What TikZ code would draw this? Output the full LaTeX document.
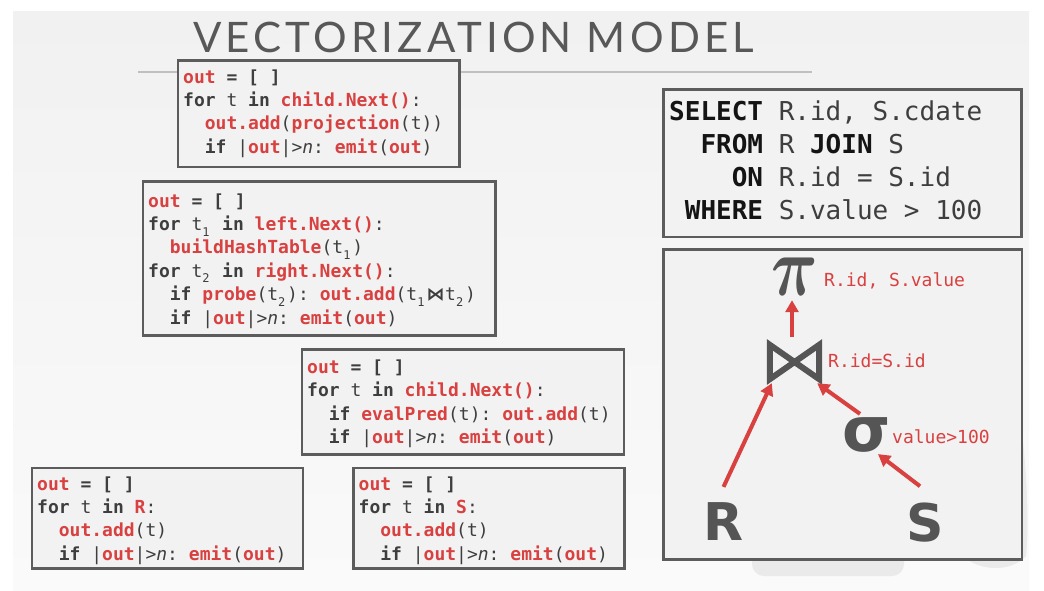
\documentclass[tikz,border=0pt]{standalone}
\usepackage{fontspec}
\usepackage{amsmath}
\usetikzlibrary{arrows.meta}

\newfontfamily\codemono{DejaVu Sans Mono}
\newfontfamily\djsans{DejaVu Sans}
\newfontfamily\titlefont{Lato}[LetterSpace=10]

\definecolor{slidetop}{RGB}{241,241,241}
\definecolor{slidebottom}{RGB}{250,250,250}
\definecolor{markgray}{RGB}{234,234,234}
\definecolor{boxfill}{RGB}{242,242,242}
\definecolor{boxline}{RGB}{92,92,92}
\definecolor{codered}{RGB}{217,64,64}
\definecolor{codetext}{RGB}{62,62,62}
\definecolor{sqlkey}{RGB}{20,20,20}
\definecolor{symgray}{RGB}{85,85,85}
\definecolor{titlegray}{RGB}{88,88,88}
\definecolor{rulegray}{RGB}{192,192,192}

% code markup
\newcommand\rd[1]{\textcolor{codered}{\bfseries #1}}
\newcommand\kw[1]{{\bfseries #1}}
\newcommand\sqlkw[1]{\textcolor{sqlkey}{\bfseries #1}}
\newcommand\ind{\phantom{xx}}
\newcommand\sub[1]{\makebox[0.5em][l]{\raisebox{-0.32em}{\fontsize{12}{12}\selectfont #1}}}
\newcommand\bowtiechar{\makebox[1.05em][c]{\djsans\bfseries ⋈}}
\newcommand\nvar{\textit{n}}

\begin{document}
\frenchspacing
\begin{tikzpicture}[x=1pt,y=-1pt,
  codebox/.style={draw=boxline, line width=2.5pt, fill=boxfill, inner sep=0pt, anchor=north west},
  code/.style={font=\codemono\fontsize{18}{23.4}\selectfont, text=codetext, inner sep=0pt, anchor=base west},
  sqltext/.style={font=\codemono\fontsize{26}{33.3}\selectfont, text=codetext, inner sep=0pt, anchor=base west},
  opsym/.style={text=symgray, inner sep=0pt, anchor=base},
  oplabel/.style={font=\codemono\fontsize{18}{18}\selectfont, text=codered, inner sep=0pt, anchor=base west},
  arr/.style={draw=codered, line width=4pt, -{Triangle[length=12pt,width=13pt]}},
]
\useasboundingbox (0,0) rectangle (1044,590);
\fill[white] (0,0) rectangle (1044,590);
\shade[top color=slidetop, bottom color=slidebottom] (13,11) rectangle (1029,590);

% faint ring mark in the lower right corner
\begin{scope}
\clip (13,11) rectangle (1029,590);
\fill[markgray, rounded corners=12pt] (752,540) rectangle (904,576);
\fill[markgray] (1012,380) .. controls (1026,430) and (1030,520) .. (1026,556)
  .. controls (1012,572) and (980,572) .. (963,556) -- (1012,556) -- cycle;
\end{scope}

% title
\draw[rulegray, line width=2pt] (138,72) -- (812,72);
\node[font=\titlefont\fontsize{42}{42}\selectfont, text=titlegray, inner sep=0pt, anchor=base west]
  (title) at (193,52) {VECTORIZATION MODEL};

% projection operator
\node[codebox, minimum width=281.6pt, minimum height=106.4pt] (projbox) at (176.7,59.3) {};
\node[code] (projcode) at (183,83) {\begin{tabular}[t]{@{}l@{}}
\rd{out} \kw{= [ ]}\\
\kw{for} t \kw{in} \rd{child.Next()}:\\
\ind\rd{out.add}(\rd{projection}(t))\\
\ind\kw{if} |\rd{out}|>\nvar: \rd{emit}(\rd{out})
\end{tabular}};

% hash join operator
\node[codebox, minimum width=352.3pt, minimum height=154.3pt] (joinbox) at (141.7,180) {};
\node[code] (joincode) at (148,207) {\begin{tabular}[t]{@{}l@{}}
\rd{out} \kw{= [ ]}\\
\kw{for} t\sub{1} \kw{in} \rd{left.Next()}:\\
\ind\rd{buildHashTable}(t\sub{1})\\
\kw{for} t\sub{2} \kw{in} \rd{right.Next()}:\\
\ind\kw{if} \rd{probe}(t\sub{2}): \rd{out.add}(t\sub{1}\bowtiechar t\sub{2})\\
\ind\kw{if} |\rd{out}|>\nvar: \rd{emit}(\rd{out})
\end{tabular}};

% selection operator
\node[codebox, minimum width=322pt, minimum height=105pt] (filtbox) at (300.7,348.3) {};
\node[code] (filtcode) at (307,373.3) {\begin{tabular}[t]{@{}l@{}}
\rd{out} \kw{= [ ]}\\
\kw{for} t \kw{in} \rd{child.Next()}:\\
\ind\kw{if} \rd{evalPred}(t): \rd{out.add}(t)\\
\ind\kw{if} |\rd{out}|>\nvar: \rd{emit}(\rd{out})
\end{tabular}};

% scan of R
\node[codebox, minimum width=271pt, minimum height=100.6pt] (scanrbox) at (30.7,466.7) {};
\node[code] (scanrcode) at (37,490) {\begin{tabular}[t]{@{}l@{}}
\rd{out} \kw{= [ ]}\\
\kw{for} t \kw{in} \rd{R}:\\
\ind\rd{out.add}(t)\\
\ind\kw{if} |\rd{out}|>\nvar: \rd{emit}(\rd{out})
\end{tabular}};

% scan of S
\node[codebox, minimum width=271pt, minimum height=100.6pt] (scansbox) at (352.3,466.7) {};
\node[code] (scanscode) at (358.5,490) {\begin{tabular}[t]{@{}l@{}}
\rd{out} \kw{= [ ]}\\
\kw{for} t \kw{in} \rd{S}:\\
\ind\rd{out.add}(t)\\
\ind\kw{if} |\rd{out}|>\nvar: \rd{emit}(\rd{out})
\end{tabular}};

% SQL query
\node[codebox, minimum width=357.7pt, minimum height=147.4pt] (sqlbox) at (662.3,88.3) {};
\node[sqltext] (sqlcode) at (669,120) {\begin{tabular}[t]{@{}l@{}}
\sqlkw{SELECT} R.id, S.cdate\\
\phantom{XX}\sqlkw{FROM} R \sqlkw{JOIN} S\\
\phantom{XXXX}\sqlkw{ON} R.id = S.id\\
\phantom{X}\sqlkw{WHERE} S.value > 100
\end{tabular}};

% query plan
\node[codebox, minimum width=358.4pt, minimum height=310pt] (planbox) at (662.3,248.3) {};
\node[opsym] (proj) at (795,295) {\scalebox{2.6}[3.4]{\fontsize{24}{24}\selectfont$\boldsymbol{\pi}$}};
\node[inner sep=0pt, minimum width=49pt, minimum height=34pt] (join) at (794.5,362) {};
\draw[symgray, line width=6pt, line join=miter]
  (join.north west) -- (join.south west) -- (join.north east) -- (join.south east) -- cycle;
\node[opsym, font=\djsans\bfseries\fontsize{62}{62}\selectfont] (sigma) at (866.5,451) {σ};
\node[opsym, font=\djsans\bfseries\fontsize{52}{52}\selectfont] (R) at (723.5,540) {R};
\node[opsym, font=\djsans\bfseries\fontsize{52}{52}\selectfont] (S) at (925,541) {S};

\node[oplabel] (projlabel) at (824,286) {R.id, S.value};
\node[oplabel] (joinlabel) at (828,367) {R.id=S.id};
\node[oplabel] (sigmalabel) at (892,443) {value>100};

\draw[arr] ([xshift=-2.5pt,yshift=8pt]join.north) -- ([xshift=-3pt,yshift=-5pt]proj.south);
\draw[arr] ([yshift=15pt]R.north) -- ([xshift=2pt,yshift=-4pt]join.south west);
\draw[arr] ([xshift=-6.5pt,yshift=3pt]sigma.north) -- ([xshift=-2pt,yshift=-4pt]join.south east);
\draw[arr] ([xshift=-5pt,yshift=16pt]S.north) -- ([xshift=11.5pt,yshift=-2pt]sigma.south);
\end{tikzpicture}
\end{document}
